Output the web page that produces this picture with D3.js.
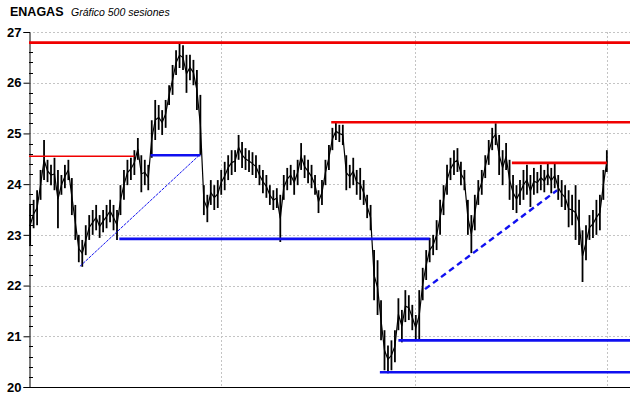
<!DOCTYPE html>
<html>
<head>
<meta charset="utf-8">
<script src="https://cdn.jsdelivr.net/npm/d3@7"></script>
<style>
  body { margin: 0; background: #fff; }
  svg { display: block; }
</style>
</head>
<body>
<div id="chart"></div>
<script>
const title = 'ENAGAS'
const subtitle = 'Gráfico 500 sesiones'

// one bar every 3 sessions, first bar at session 1
const barStep = 3
const highs = [
  23.59, 23.69, 23.88, 24.28, 24.87, 24.48, 24.38, 24.52, 24.28, 24.18,
  24.38, 24.48, 24.12, 23.59, 23.00, 22.90, 23.19, 23.39, 23.49, 23.59,
  23.39, 23.49, 23.59, 23.69, 23.59, 23.49, 23.98, 24.28, 24.48, 24.52,
  24.67, 24.91, 24.57, 24.48, 24.38, 25.26, 25.66, 25.56, 25.46, 25.66,
  25.95, 26.35, 26.64, 26.80, 26.74, 26.55, 26.55, 26.45, 26.25, 25.76,
  23.98, 23.79, 24.08, 23.98, 24.08, 24.28, 24.44, 24.57, 24.67, 24.67,
  24.97, 24.83, 24.71, 24.67, 24.63, 24.57, 24.38, 24.28, 24.18, 23.98,
  23.88, 23.92, 23.79, 24.18, 24.32, 24.38, 24.28, 24.48, 24.81, 24.57,
  24.48, 24.38, 24.18, 23.88, 24.08, 24.48, 24.77, 25.11, 25.22, 25.17,
  25.17, 24.57, 24.38, 24.52, 24.28, 24.32, 24.08, 23.79, 23.59, 22.70,
  22.50, 21.71, 21.12, 20.82, 20.92, 21.12, 21.75, 21.52, 21.91, 21.81,
  21.62, 21.42, 21.91, 22.35, 22.70, 22.94, 23.00, 23.29, 23.69, 23.98,
  24.38, 24.52, 24.67, 24.71, 24.44, 24.28, 23.69, 23.39, 23.79, 24.08,
  24.28, 24.57, 24.87, 25.11, 25.20, 24.97, 24.67, 24.81, 24.48, 24.18,
  23.98, 24.08, 24.28, 24.38, 24.18, 24.32, 24.24, 24.38, 24.28, 24.42,
  24.32, 24.42, 24.18, 24.08, 23.98, 23.88, 23.79, 23.98, 23.69, 23.09,
  23.19, 23.39, 23.49, 23.69, 23.79, 24.28, 24.67
]
const lows = [
  22.80, 23.13, 23.19, 23.69, 24.08, 24.04, 23.98, 23.88, 23.13, 23.79,
  23.92, 24.08, 23.39, 22.90, 22.46, 22.37, 22.60, 22.90, 23.00, 23.09,
  22.94, 23.05, 23.13, 23.25, 23.09, 22.90, 23.39, 23.69, 23.98, 24.08,
  24.18, 24.48, 23.84, 23.98, 23.88, 24.52, 24.87, 25.07, 24.97, 25.11,
  25.56, 25.76, 26.15, 26.29, 26.25, 25.80, 26.05, 25.95, 25.46, 24.57,
  23.39, 23.25, 23.59, 23.49, 23.53, 23.79, 23.88, 24.08, 24.18, 24.24,
  24.48, 24.32, 24.28, 24.24, 24.18, 24.12, 23.98, 23.82, 23.73, 23.59,
  23.49, 23.53, 22.86, 23.69, 23.88, 23.98, 23.79, 23.98, 24.28, 24.12,
  24.02, 23.92, 23.79, 23.43, 23.59, 23.98, 24.28, 24.67, 24.87, 24.83,
  24.77, 23.88, 23.92, 23.98, 23.79, 23.69, 23.59, 23.33, 23.09, 21.71,
  21.42, 20.92, 20.33, 20.27, 20.33, 20.49, 21.12, 20.88, 21.28, 21.32,
  21.12, 20.92, 20.92, 21.71, 22.11, 22.46, 22.60, 22.70, 23.00, 23.39,
  23.79, 24.08, 24.18, 24.24, 23.98, 23.88, 23.00, 22.64, 23.09, 23.59,
  23.79, 24.12, 24.38, 24.67, 24.77, 24.18, 23.98, 24.28, 23.69, 23.49,
  23.43, 23.59, 23.69, 23.79, 23.55, 23.79, 23.82, 23.88, 23.84, 23.98,
  23.82, 23.92, 23.69, 23.55, 23.49, 23.15, 23.19, 22.90, 22.80, 22.07,
  22.50, 22.90, 22.94, 23.00, 23.09, 23.69, 24.24
]

const yTicks = [20, 21, 22, 23, 24, 25, 26, 27]
const gridSessions = [166, 333, 499]

// [price, fromSession, toSession, width]
const resistances = [
  [26.79, 0, 519, 2.6],
  [24.55, 0, 91, 1.6],
  [25.22, 261, 519, 2.6],
  [24.42, 417, 499, 2.6]
]
const supports = [
  [24.57, 105, 148],
  [22.92, 78, 346],
  [20.92, 319, 519],
  [20.29, 303, 519]
]
// [fromSession, fromPrice, toSession, toPrice]
const trendThin = [44, 22.38, 147, 24.57]
const trendThick = [342, 21.93, 456, 23.88]

// Vars for dimensions
const width = 640
const height = 398
const plot = { left: 29, right: 630, top: 32, bottom: 387 }

const svg = d3.select('#chart')
  .append('svg')
  .attr('width', width)
  .attr('height', height)
  .style('font-family', '"Liberation Sans", Arial, sans-serif')

const xScale = d3.scaleLinear().domain([0, 519]).range([plot.left, plot.right])
const yScale = d3.scaleLinear().domain([20, 27]).range([plot.bottom, plot.top])

// Title
svg.append('text')
  .attr('x', 10).attr('y', 15.5)
  .attr('font-size', 12.5).attr('font-weight', 'bold')
  .text(title)
svg.append('text')
  .attr('x', 71).attr('y', 15.5)
  .attr('font-size', 10.5).attr('font-style', 'italic')
  .text(subtitle)

// Gridlines
svg.append('g').selectAll('line')
  .data(yTicks)
  .join('line')
  .attr('x1', plot.left).attr('x2', plot.right)
  .attr('y1', d => Math.round(yScale(d)) + 0.5).attr('y2', d => Math.round(yScale(d)) + 0.5)
  .attr('stroke', '#c4c4c4').attr('stroke-dasharray', '2,2')

svg.append('g').selectAll('line')
  .data(gridSessions)
  .join('line')
  .attr('x1', d => Math.round(xScale(d)) + 0.5).attr('x2', d => Math.round(xScale(d)) + 0.5)
  .attr('y1', plot.top).attr('y2', plot.bottom)
  .attr('stroke', '#c4c4c4').attr('stroke-dasharray', '2,2')

// Left axis - price
const yAxis = svg.append('g')
  .attr('transform', `translate(${plot.left + 0.5},0)`)
  .call(d3.axisLeft(yScale).tickValues(yTicks).tickSize(6).tickPadding(2).tickFormat(d3.format('d')))
yAxis.select('.domain').attr('stroke', '#000')
yAxis.selectAll('.tick text')
  .attr('font-size', 13).attr('font-weight', 'bold')
  .attr('font-family', '"Liberation Sans", Arial, sans-serif')
  .attr('fill', '#000')

const minorTicks = d3.range(20, 27.01, 0.2).filter(v => Math.abs(v - Math.round(v)) > 0.01)
svg.append('g').selectAll('line')
  .data(minorTicks)
  .join('line')
  .attr('x1', plot.left).attr('x2', plot.left + 4)
  .attr('y1', d => Math.round(yScale(d)) + 0.5).attr('y2', d => Math.round(yScale(d)) + 0.5)
  .attr('stroke', '#000')

// Bottom axis line
svg.append('line')
  .attr('x1', plot.left).attr('x2', plot.right)
  .attr('y1', plot.bottom + 0.5).attr('y2', plot.bottom + 0.5)
  .attr('stroke', '#000')

// Price bars: high-low bars joined by a line through each bar's midpoint
const bars = highs.map((h, i) => ({ s: i * barStep + 1, high: h, low: lows[i] }))
const priceLine = d3.line()
  .x(d => xScale(d.s))
  .y(d => yScale((d.high + d.low) / 2))

svg.append('path')
  .datum(bars)
  .attr('fill', 'none')
  .attr('stroke', '#000')
  .attr('stroke-width', 1.2)
  .attr('d', priceLine)

svg.append('g').selectAll('line')
  .data(bars)
  .join('line')
  .attr('x1', d => xScale(d.s)).attr('x2', d => xScale(d.s))
  .attr('y1', d => yScale(d.high)).attr('y2', d => yScale(d.low))
  .attr('stroke', '#000').attr('stroke-width', 1.8)

// Support / resistance levels
const levelLine = (g, rows, color) => g.selectAll('line')
  .data(rows)
  .join('line')
  .attr('x1', d => xScale(d[1])).attr('x2', d => xScale(d[2]))
  .attr('y1', d => yScale(d[0])).attr('y2', d => yScale(d[0]))
  .attr('stroke', color)
  .attr('stroke-width', d => d[3] || 2.6)

levelLine(svg.append('g'), resistances, '#f00000')
levelLine(svg.append('g'), supports, '#1010f0')

// Trend lines
svg.append('line')
  .attr('x1', xScale(trendThin[0])).attr('y1', yScale(trendThin[1]))
  .attr('x2', xScale(trendThin[2])).attr('y2', yScale(trendThin[3]))
  .attr('stroke', '#1010f0').attr('stroke-width', 1)
  .attr('stroke-dasharray', '3,1')

svg.append('line')
  .attr('x1', xScale(trendThick[0])).attr('y1', yScale(trendThick[1]))
  .attr('x2', xScale(trendThick[2])).attr('y2', yScale(trendThick[3]))
  .attr('stroke', '#1010f0').attr('stroke-width', 2.4)
  .attr('stroke-dasharray', '6,4')
</script>
</body>
</html>
